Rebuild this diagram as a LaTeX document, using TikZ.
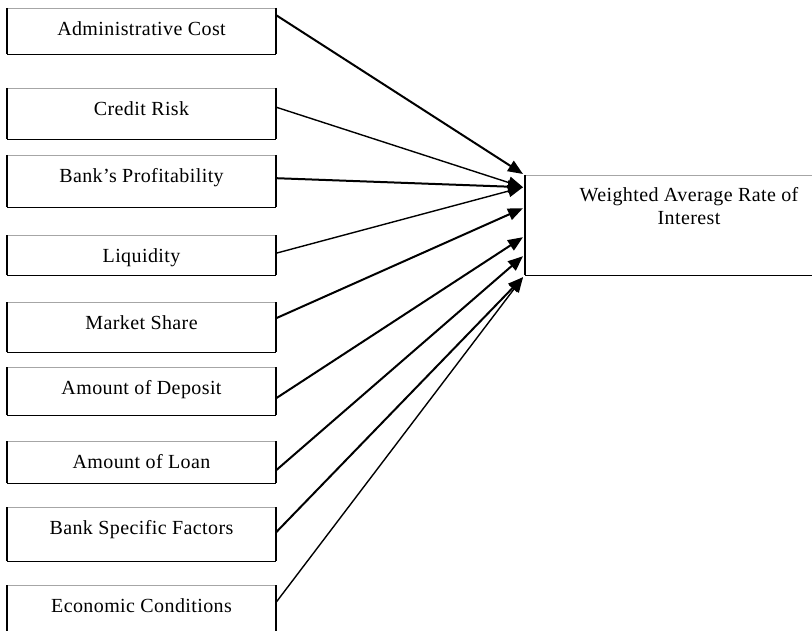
\documentclass[tikz,border=0pt]{standalone}
\usepackage{fontspec}
\setmainfont{Liberation Serif}[LetterSpace=2]
\usetikzlibrary{arrows.meta,calc}
\tikzset{
  fbox/.style={inner sep=0pt, minimum width=269bp, text height=27bp, anchor=north,
    font=\fontsize{20bp}{23bp}\selectfont},
  topedge/.style={draw=black!35, line width=0.9bp},
  sideedge/.style={draw=black, line width=2.2bp},
  botedge/.style={draw=black, line width=1.4bp},
  arr/.style={-{Triangle[length=15bp,width=12bp]}, line width=1.4bp},
  tarr/.style={arr, line width=2bp},
  lbl/.style={inner sep=0pt, align=center, font=\fontsize{20bp}{23bp}\selectfont},
}
\begin{document}
\begin{tikzpicture}[x=1bp,y=-1bp]
\useasboundingbox (0,0) rectangle (812,631);
\node[fbox, text depth=19bp] (b1) at (141.5,8)   {Administrative Cost};
\node[fbox, text depth=24bp] (b2) at (141.5,88)  {Credit Risk};
\node[fbox, text depth=25bp] (b3) at (141.5,155) {Bank's Profitability};
\node[fbox, text depth=13bp] (b4) at (141.5,235) {Liquidity};
\node[fbox, text depth=23bp] (b5) at (141.5,302) {Market Share};
\node[fbox, text depth=21bp] (b6) at (141.5,367) {Amount of Deposit};
\node[fbox, text depth=15bp] (b7) at (141.5,441) {Amount of Loan};
\node[fbox, text depth=27bp] (b8) at (141.5,507) {Bank Specific Factors};
\node[fbox, text depth=29bp] (b9) at (141.5,585) {Economic Conditions};
\foreach \b in {b1,b2,b3,b4,b5,b6,b7,b8,b9}{
  \draw[topedge] (\b.north west) -- (\b.north east);
  \draw[botedge] (\b.south west) -- (\b.south east);
  \draw[sideedge] (\b.north west) -- (\b.south west);
  \draw[sideedge] (\b.north east) -- (\b.south east);
}
\node[inner sep=0pt, anchor=north west, minimum width=328bp, minimum height=100bp] (w) at (525,175) {};
\draw[topedge] (w.north west) -- (w.north east);
\draw[botedge] (w.south west) -- (w.south east);
\draw[sideedge] (w.north west) -- (w.south west);
\node[lbl, anchor=north] (wl) at (689,187) {Weighted Average Rate of\\Interest};
\draw[tarr] ($(b1.east)+(0,-16)$) -- ($(w.north west)+(-2,-1)$);
\draw[arr]  ($(b2.east)+(0,-6.5)$) -- ($(w.west)+(-2,-38)$);
\draw[tarr] ($(b3.east)+(0,-3)$) -- ($(w.west)+(-2,-38)$);
\draw[arr]  ($(b4.east)+(0,-2)$) -- ($(w.west)+(-2,-38)$);
\draw[tarr] ($(b5.east)+(0,-9)$) -- ($(w.west)+(-2,-17)$);
\draw[tarr] ($(b6.east)+(0,7)$) -- ($(w.west)+(-2,12)$);
\draw[tarr] ($(b7.east)+(0,8)$) -- ($(w.west)+(-2,31)$);
\draw[tarr] ($(b8.east)+(0,-2)$) -- ($(w.west)+(-2,52)$);
\draw[arr]  ($(b9.east)+(0,-11)$) -- ($(w.west)+(-2,52)$);
\end{tikzpicture}
\end{document}
